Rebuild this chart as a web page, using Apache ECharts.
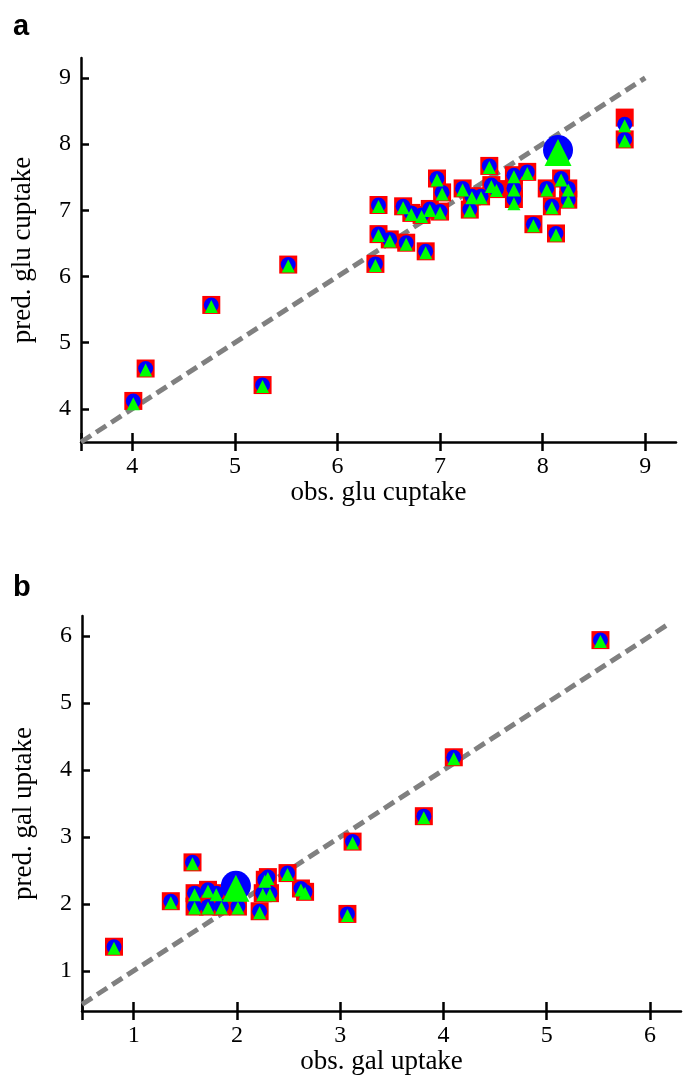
<!DOCTYPE html>
<html>
<head>
<meta charset="utf-8">
<script src="https://cdn.jsdelivr.net/npm/echarts/dist/echarts.min.js"></script>
<style>
html,body{margin:0;padding:0;background:#fff;}
#chart{width:685px;height:1090px;}
</style>
</head>
<body>
<div id="chart"></div>
<script>
// ---------- Panel a: glucose uptake ----------
const gluObs   = [4.01,4.13,4.77,5.27,5.52,6.37,6.40,6.40,6.51,6.64,6.67,6.72,6.82,6.86,6.90,6.97,7.00,7.02,7.22,7.29,7.31,7.40,7.48,7.50,7.55,7.72,7.72,7.72,7.85,7.91,8.04,8.09,8.13,8.18,8.25,8.25,8.80,8.80];
const gluPredSq = [4.12,4.61,5.57,4.36,6.18,6.19,6.64,7.08,6.56,7.06,6.51,6.96,6.93,6.38,7.02,7.48,6.98,7.27,7.33,7.01,7.21,7.21,7.67,7.38,7.32,7.53,7.33,7.17,7.58,6.79,7.33,7.06,6.65,7.48,7.33,7.16,8.40,8.07];
const gluPredCi = [4.12,4.61,5.57,4.36,6.18,6.19,6.64,7.08,6.56,7.06,6.51,6.96,6.93,6.38,7.02,7.48,6.98,7.27,7.33,7.01,7.21,7.21,7.67,7.38,7.32,7.53,7.33,7.17,7.58,6.79,7.33,7.06,6.65,7.48,7.33,7.16,8.30,8.07];
const gluPredTr = [4.10,4.61,5.57,4.36,6.18,6.19,6.64,7.08,6.56,7.06,6.51,6.96,6.93,6.38,7.02,7.48,6.98,7.27,7.33,7.01,7.21,7.21,7.67,7.38,7.32,7.53,7.33,7.12,7.58,6.79,7.33,7.06,6.65,7.48,7.33,7.16,8.30,8.07];
const gluBigObs  = [8.15];
const gluBigPred = [7.91];
const gluDiag = [3.5, 9];
const gluTicks = [4,5,6,7,8,9];

// ---------- Panel b: galactose uptake ----------
const galObs    = [0.81,1.36,1.57,1.59,1.59,1.72,1.72,1.80,1.85,2.01,2.22,2.25,2.27,2.30,2.32,2.49,2.62,2.66,3.07,3.12,3.81,4.10,5.52];
const galPredSq = [1.36,2.04,2.62,2.16,1.96,2.21,1.96,2.16,1.96,1.96,1.89,2.16,2.36,2.40,2.16,2.46,2.23,2.18,1.85,2.93,3.31,4.19,5.94];
const galPredCi = [1.36,2.04,2.62,2.16,1.96,2.21,1.96,2.16,1.96,1.96,1.89,2.16,2.36,2.40,2.16,2.46,2.23,2.18,1.85,2.93,3.31,4.19,5.94];
const galPredTr = [1.36,2.04,2.62,2.16,1.96,2.21,1.96,2.16,1.96,1.96,1.89,2.16,2.36,2.40,2.16,2.46,2.23,2.18,1.85,2.93,3.31,4.19,5.94];
const galBigObs  = [1.99];
const galBigPred = [2.27];
const galDiag = [0.5, 6.2];
const galTicks = [1,2,3,4,5,6];

const zip = (xs, ys) => xs.map((x, i) => [x, ys[i]]);
const SERIF = '"Liberation Serif", "DejaVu Serif", serif';

function axesFor(gi, min, max, ticks, xName, yName, ymin, ymax) {
  const base = {
    type: 'value', gridIndex: gi, splitLine: {show: false},
    axisLine: {show: true, onZero: false, lineStyle: {color: '#000', width: 2.5}}
  };
  const xMain = Object.assign({}, base, {
    min: min, max: max, position: 'bottom',
    axisTick: {show: true, inside: false, length: 9, lineStyle: {color: '#000', width: 2.5}, customValues: [min].concat(ticks)},
    axisLabel: {show: true, customValues: ticks, margin: 13, color: '#000', fontFamily: SERIF, fontSize: 24},
    name: xName, nameLocation: 'middle', nameGap: 37,
    nameTextStyle: {color: '#000', fontFamily: SERIF, fontSize: 27}
  });
  const xInner = Object.assign({}, base, {
    min: min, max: max, position: 'bottom',
    axisLine: {show: false},
    axisTick: {show: true, inside: true, length: 9, lineStyle: {color: '#000', width: 2.5}, customValues: [min].concat(ticks)},
    axisLabel: {show: false}
  });
  const yMain = Object.assign({}, base, {
    min: ymin, max: ymax, position: 'left',
    axisTick: {show: true, inside: true, length: 8, lineStyle: {color: '#000', width: 2.5}, customValues: ticks},
    axisLabel: {show: true, customValues: ticks, margin: 10, color: '#000', fontFamily: SERIF, fontSize: 24},
    name: yName, nameLocation: 'middle', nameGap: 45,
    nameTextStyle: {color: '#000', fontFamily: SERIF, fontSize: 27}
  });
  return {x: [xMain, xInner], y: [yMain]};
}

const A = axesFor(0, 3.5, 9.3, gluTicks, 'obs. glu cuptake', 'pred. glu cuptake', 3.5, 9.3);
const B = axesFor(1, 0.5, 6.3, galTicks, 'obs. gal uptake', 'pred. gal uptake', 0.4, 6.3);

function seriesFor(xi, yi, obs, sq, ci, tr, bigObs, bigPred, diag) {
  return [
    {type: 'line', xAxisIndex: xi, yAxisIndex: yi, data: [[diag[0], diag[0]], [diag[1], diag[1]]],
     symbol: 'none', silent: true, z: 1,
     lineStyle: {color: '#808080', width: 5, type: [12, 6]}},
    {type: 'scatter', xAxisIndex: xi, yAxisIndex: yi, data: zip(obs, sq), symbol: 'rect', symbolSize: 18,
     itemStyle: {color: '#ff0000', opacity: 1}, z: 2},
    {type: 'scatter', xAxisIndex: xi, yAxisIndex: yi, data: zip(obs, ci), symbol: 'circle', symbolSize: 15,
     itemStyle: {color: '#0000ff', opacity: 1}, z: 3},
    {type: 'scatter', xAxisIndex: xi, yAxisIndex: yi, data: zip(bigObs, bigPred), symbol: 'circle', symbolSize: 30,
     itemStyle: {color: '#0000ff', opacity: 1}, z: 3},
    {type: 'scatter', xAxisIndex: xi, yAxisIndex: yi, data: zip(obs, tr), symbol: 'triangle', symbolSize: 13,
     symbolOffset: [0, 1.5], itemStyle: {color: '#00ff00', opacity: 1}, z: 4},
    {type: 'scatter', xAxisIndex: xi, yAxisIndex: yi, data: zip(bigObs, bigPred), symbol: 'triangle', symbolSize: 27,
     symbolOffset: [0, 2.5], itemStyle: {color: '#00ff00', opacity: 1}, z: 4}
  ];
}

const chart = echarts.init(document.getElementById('chart'), null, {renderer: 'canvas'});
chart.setOption({
  animation: false,
  backgroundColor: '#fff',
  grid: [
    {left: 81, top: 58, width: 595, height: 384},
    {left: 82, top: 616, width: 599, height: 395}
  ],
  xAxis: [A.x[0], A.x[1], B.x[0], B.x[1]],
  yAxis: [A.y[0], B.y[0]],
  series: [].concat(
    seriesFor(0, 0, gluObs, gluPredSq, gluPredCi, gluPredTr, gluBigObs, gluBigPred, gluDiag),
    seriesFor(2, 1, galObs, galPredSq, galPredCi, galPredTr, galBigObs, galBigPred, galDiag)
  ),
  graphic: [
    {type: 'text', left: 13, top: 12, style: {text: 'a', font: 'bold 29px "Liberation Sans", Arial, sans-serif', fill: '#000'}},
    {type: 'text', left: 13, top: 573, style: {text: 'b', font: 'bold 29px "Liberation Sans", Arial, sans-serif', fill: '#000'}}
  ]
});
</script>
</body>
</html>
